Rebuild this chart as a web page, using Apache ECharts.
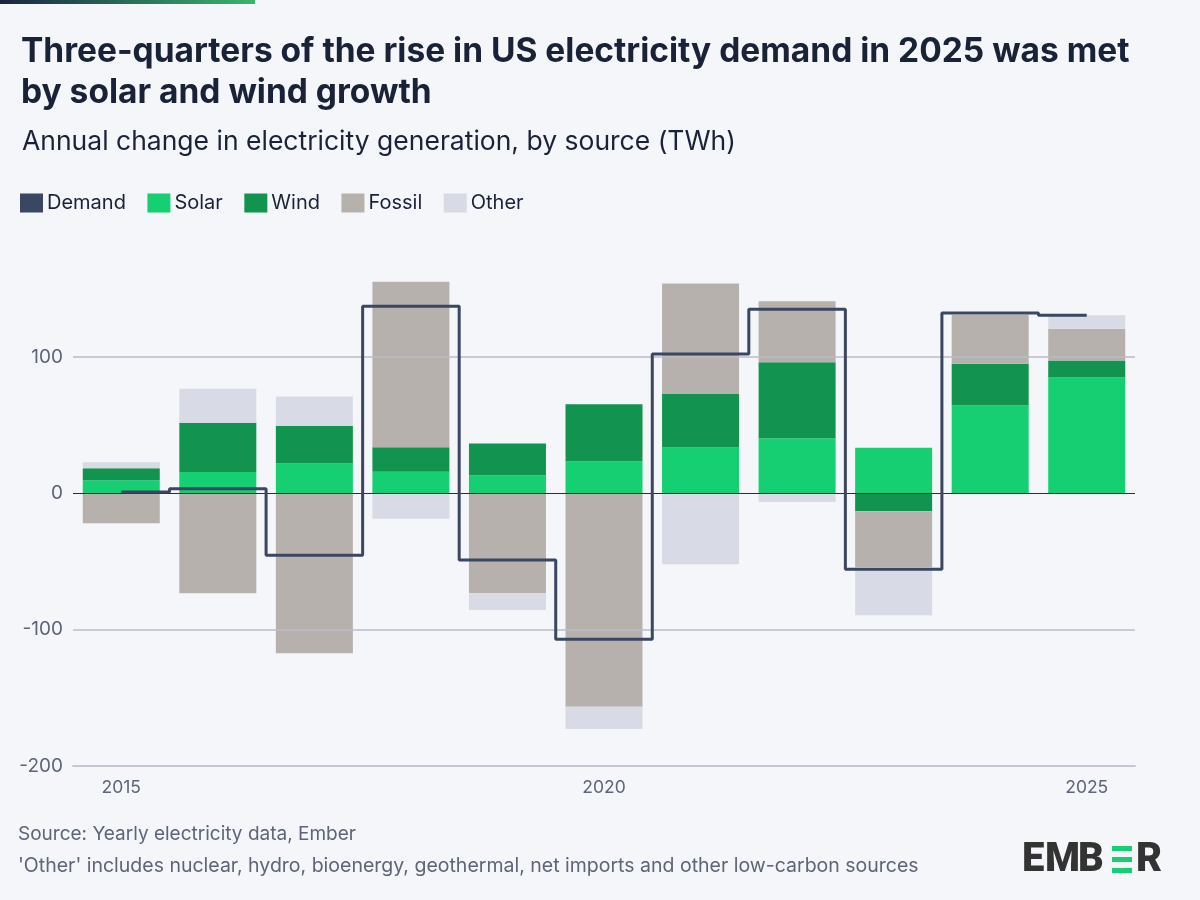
<!DOCTYPE html>
<html>
<head>
<meta charset="utf-8">
<script src="https://cdn.jsdelivr.net/npm/echarts@6/dist/echarts.min.js"></script>
<style>
  html, body { margin: 0; padding: 0; background: #f4f6fa; }
  #main { width: 1200px; height: 900px; }
</style>
</head>
<body>
<div id="main"></div>
<script>
var years = ['2015', '2016', '2017', '2018', '2019', '2020', '2021', '2022', '2023', '2024', '2025'];
// annual change, TWh
var solar  = [9.7, 15.6, 22, 15.9, 13.2, 23.4, 33.7, 40.5, 33.5, 64.5, 85];
var wind   = [8.8, 36.2, 27.6, 18, 23.4, 42, 39.6, 55.7, -13.2, 30.5, 12.4];
var fossil = [-22, -73.3, -117.2, 121.4, -73.3, -156.5, 80.6, 44.7, -41, 36.1, 23.3];
var other  = [4.4, 24.9, 21.5, -18.6, -12.2, -16.4, -52, -6.4, -35.2, 0, 9.9];
var demand = [1, 3.4, -45.4, 137.2, -48.8, -107, 102.3, 135, -55.7, 132.4, 130.6];

var font = 'Inter, "Noto Sans", sans-serif';
var ink = '#1a2238';
var grey = '#5d6576';

var myChart = echarts.init(document.getElementById('main'));

function bar(name, data, color) {
  return {
    name: name,
    type: 'bar',
    stack: 'total',
    barWidth: 77,
    data: data,
    itemStyle: { color: color },
    emphasis: { disabled: true }
  };
}

var option = {
  backgroundColor: '#f4f6fa',
  animation: false,
  textStyle: { fontFamily: font },
  title: [{
    text: 'Three-quarters of the rise in US electricity demand in 2025 was met\nby solar and wind growth',
    left: 16,
    top: 26,
    textStyle: { fontFamily: font, fontWeight: 700, fontSize: 33.5, lineHeight: 41, color: ink }
  }, {
    text: 'Annual change in electricity generation, by source (TWh)',
    left: 17,
    top: 124,
    textStyle: { fontFamily: font, fontWeight: 400, fontSize: 26.5, color: ink }
  }],
  legend: {
    left: 15,
    top: 188,
    icon: 'rect',
    itemWidth: 23,
    itemHeight: 19,
    itemGap: 21.5,
    data: ['Demand', 'Solar', 'Wind', 'Fossil', 'Other'],
    textStyle: { fontFamily: font, fontSize: 20, color: ink, padding: [0, 0, 0, -1] }
  },
  grid: { left: 73, right: 65, top: 248, bottom: 134 },
  xAxis: {
    type: 'category',
    data: years,
    axisLine: { onZero: false, lineStyle: { color: '#c4c8d2', width: 2 } },
    axisTick: { interval: 4, alignWithLabel: true, length: 6, lineStyle: { color: '#c4c8d2' } },
    axisLabel: { interval: 4, margin: 13, fontSize: 17.5, color: grey, fontFamily: font }
  },
  yAxis: {
    type: 'value',
    min: -200,
    max: 180,
    interval: 100,
    splitLine: { show: false },
    axisLabel: { showMaxLabel: false, margin: 10, fontSize: 19, color: grey, fontFamily: font }
  },
  graphic: [
    {
      type: 'rect',
      shape: { x: 0, y: 0, width: 255, height: 4 },
      style: {
        fill: new echarts.graphic.LinearGradient(0, 0, 1, 0, [
          { offset: 0, color: '#1b2440' },
          { offset: 1, color: '#3ab56f' }
        ])
      }
    },
    {
      type: 'text', left: 18, top: 825,
      style: { text: 'Source: Yearly electricity data, Ember', fontFamily: font, fontSize: 19, fill: grey }
    },
    {
      type: 'text', left: 18, top: 856,
      style: { text: "'Other' includes nuclear, hydro, bioenergy, geothermal, net imports and other low-carbon sources", fontFamily: font, fontSize: 19.5, fill: grey }
    },
    // EMBER logo
    { type: 'text', x: 1022, y: 841, style: { text: 'E', fontFamily: 'Roboto', fontWeight: 900, fontSize: 40, fill: '#333333' } },
    { type: 'text', x: 1045, y: 841, style: { text: 'M', fontFamily: 'Roboto', fontWeight: 900, fontSize: 40, fill: '#333333' } },
    { type: 'text', x: 1078, y: 841, style: { text: 'B', fontFamily: 'Roboto', fontWeight: 900, fontSize: 40, fill: '#333333' } },
    { type: 'rect', shape: { x: 1112, y: 846, width: 20, height: 5 }, style: { fill: '#17cf73' } },
    { type: 'rect', shape: { x: 1112, y: 857, width: 20, height: 5 }, style: { fill: '#17cf73' } },
    { type: 'rect', shape: { x: 1112, y: 868, width: 20, height: 5 }, style: { fill: '#17cf73' } },
    { type: 'text', x: 1136, y: 841, style: { text: 'R', fontFamily: 'Roboto', fontWeight: 900, fontSize: 40, fill: '#333333' } }
  ],
  series: [
    {
      name: 'gridlines',
      type: 'line',
      z: 1,
      data: [],
      silent: true,
      markLine: {
        silent: true,
        symbol: 'none',
        label: { show: false },
        lineStyle: { color: '#b9bdc9', width: 1.5, type: 'solid' },
        data: [{ yAxis: 100 }, { yAxis: -100 }]
      }
    },
    bar('Solar', solar, '#17cf73'),
    bar('Wind', wind, '#12934f'),
    bar('Fossil', fossil, '#b7b1ad'),
    bar('Other', other, '#d8dbe6'),
    {
      name: 'Demand',
      type: 'line',
      step: 'middle',
      z: 5,
      data: demand,
      showSymbol: false,
      symbol: 'none',
      itemStyle: { color: '#3b4660' },
      lineStyle: { color: '#3b4660', width: 3 },
      emphasis: { disabled: true },
      markLine: {
        silent: true,
        symbol: 'none',
        label: { show: false },
        lineStyle: { color: '#262d3d', width: 1.2, type: 'solid' },
        data: [{ yAxis: 0 }]
      }
    }
  ]
};

myChart.setOption(option);
</script>
</body>
</html>
